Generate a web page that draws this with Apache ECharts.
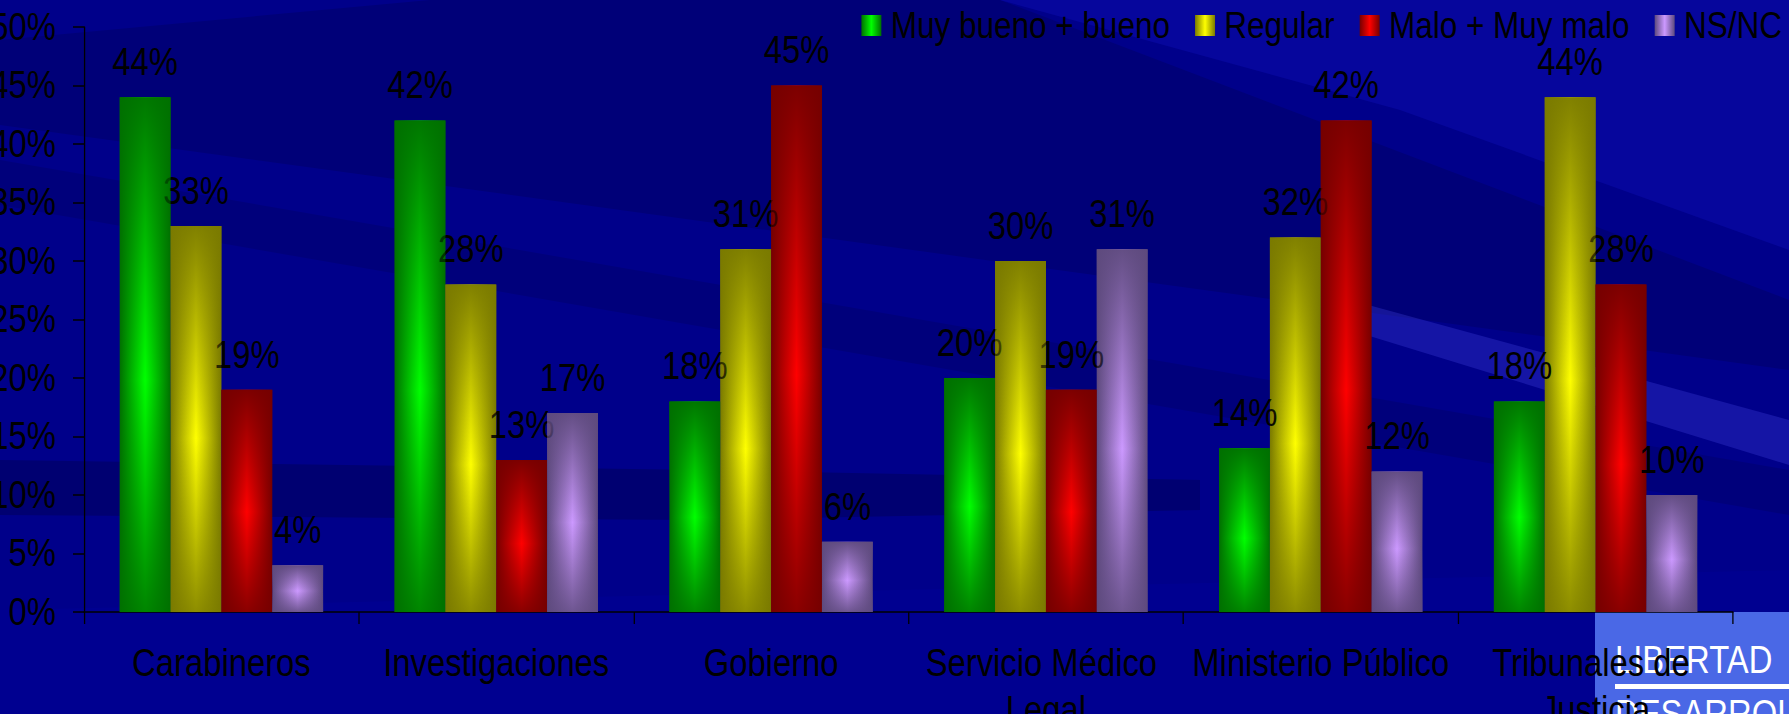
<!DOCTYPE html>
<html>
<head>
<meta charset="utf-8">
<script src="https://cdn.jsdelivr.net/npm/echarts@6/dist/echarts.min.js"></script>
<style>
html,body{margin:0;padding:0;background:#00008a;overflow:hidden;}
#wrap{width:1789px;height:714px;overflow:hidden;position:relative;}
#chart{height:714px;transform-origin:0 0;position:absolute;left:0;top:0;}
</style>
</head>
<body>
<div id="wrap"><div id="chart"></div></div>
<script>
// ---- data ----
var categories = ['Carabineros', 'Investigaciones', 'Gobierno', 'Servicio Médico Legal', 'Ministerio Público', 'Tribunales de Justicia'];
var seriesNames = ['Muy bueno + bueno', 'Regular', 'Malo + Muy malo', 'NS/NC'];
var muyBuenoBueno = [44, 42, 18, 20, 14, 18];
var regular       = [33, 28, 31, 30, 32, 44];
var maloMuyMalo   = [19, 13, 45, 19, 42, 28];
var nsnc          = [4, 17, 6, 31, 12, 10];
var yTicks = [0, 5, 10, 15, 20, 25, 30, 35, 40, 45, 50];

// ---- layout: the original slide text is horizontally condensed; render wider and squeeze ----
var W = 1789, H = 714, SX = 0.863;
function vx(x) { return x / SX; }
var chartEl = document.getElementById('chart');
chartEl.style.width = (W / SX) + 'px';
chartEl.style.transform = 'scaleX(' + SX + ')';

var FONT = "'Liberation Sans', Arial, sans-serif";
var FS = 38;
var edgeColors   = ['#007000', '#7a7a00', '#760000', '#5e4a7e'];
var centerColors = ['#00ff00', '#ffff00', '#ff0000', '#cc99ff'];
var values = [muyBuenoBueno, regular, maloMuyMalo, nsnc];

function hexToRgba(hex, a) {
  var n = parseInt(hex.slice(1), 16);
  return 'rgba(' + ((n >> 16) & 255) + ',' + ((n >> 8) & 255) + ',' + (n & 255) + ',' + a + ')';
}

var series = [];
values.forEach(function (arr, i) {
  series.push({
    name: seriesNames[i],
    type: 'bar',
    xAxisIndex: 0,
    data: arr,
    barGap: '0%',
    barCategoryGap: '26%',
    z: 2,
    itemStyle: {
      color: new echarts.graphic.LinearGradient(0, 0, 1, 0, [
        { offset: 0, color: edgeColors[i] },
        { offset: 0.5, color: centerColors[i] },
        { offset: 1, color: edgeColors[i] }
      ])
    },
    label: {
      show: true,
      position: 'top',
      distance: 16,
      formatter: '{c}%',
      color: '#000',
      fontFamily: FONT,
      fontSize: FS
    }
  });
});
// vertical shading overlay (same values, on a hidden twin axis)
values.forEach(function (arr, i) {
  series.push({
    name: seriesNames[i] + ' ',
    type: 'bar',
    xAxisIndex: 1,
    data: arr,
    barGap: '0%',
    barCategoryGap: '26%',
    silent: true,
    z: 3,
    label: { show: false },
    tooltip: { show: false },
    itemStyle: {
      color: new echarts.graphic.LinearGradient(0, 0, 0, 1, [
        { offset: 0, color: hexToRgba(edgeColors[i], 0.95) },
        { offset: 0.55, color: hexToRgba(edgeColors[i], 0) },
        { offset: 1, color: hexToRgba(edgeColors[i], 0.85) }
      ])
    }
  });
});

// decorative background sweeps (real pixel coords)
var bg = [
  { pts: [[0, 40], [430, 0], [1000, 0], [1789, 300], [1789, 370], [0, 125]], fill: 'rgba(0,0,40,0.18)' },
  { pts: [[0, 160], [1789, 470], [1789, 515], [0, 205]], fill: 'rgba(0,0,40,0.15)' },
  { pts: [[0, 460], [700, 470], [1200, 480], [1200, 510], [700, 520], [0, 515]], fill: 'rgba(0,0,40,0.25)' },
  { pts: [[1000, 0], [1789, 0], [1789, 250], [1400, 110]], fill: 'rgba(20,20,200,0.3)' },
  { pts: [[1350, 300], [1789, 420], [1789, 465], [1350, 330]], fill: 'rgba(70,70,230,0.3)' },
  { pts: [[0, 610], [1789, 570], [1789, 714], [0, 714]], fill: 'rgba(0,0,170,0.2)' }
];
var graphics = bg.map(function (b) {
  return {
    type: 'polygon', z: -100, silent: true,
    shape: { points: b.pts.map(function (p) { return [vx(p[0]), p[1]]; }) },
    style: { fill: b.fill }
  };
});
// logo box bottom right
graphics.push({ type: 'rect', z: -50, silent: true, shape: { x: vx(1595), y: 612, width: vx(200), height: 102 }, style: { fill: '#4a68e6' } });
graphics.push({ type: 'text', z: -49, silent: true, x: vx(1615), y: 641, style: { text: 'LIBERTAD', fill: '#ffffff', font: "38px 'Liberation Sans', Arial, sans-serif" } });
graphics.push({ type: 'rect', z: -49, silent: true, shape: { x: vx(1615), y: 684, width: vx(180), height: 5 }, style: { fill: '#ffffff' } });
graphics.push({ type: 'text', z: -49, silent: true, x: vx(1615), y: 695, style: { text: 'DESARROLLO', fill: '#ffffff', font: "38px 'Liberation Sans', Arial, sans-serif" } });

var chart = echarts.init(chartEl, null, { renderer: 'svg' });
chart.setOption({
  backgroundColor: '#00008a',
  animation: false,
  textStyle: { fontFamily: FONT },
  graphic: graphics,
  legend: {
    data: seriesNames,
    right: vx(7),
    top: 7,
    padding: 0,
    itemWidth: vx(20),
    itemHeight: 21,
    itemGap: vx(25),
    icon: 'rect',
    textStyle: { color: '#000', fontFamily: FONT, fontSize: 36.5, padding: [0, 0, 0, vx(5)] }
  },
  grid: { left: vx(84), right: vx(56), top: 27, bottom: 102, containLabel: false, outerBoundsMode: 'none' },
  xAxis: [{
    type: 'category',
    data: categories,
    axisLine: { lineStyle: { color: '#000', width: 1.5 } },
    axisTick: { show: true, length: 12, lineStyle: { color: '#000', width: 1.5 } },
    axisLabel: {
      color: '#000', fontFamily: FONT, fontSize: FS, lineHeight: 47, margin: 28,
      interval: 0, width: 335, overflow: 'break'
    }
  }, {
    type: 'category',
    data: categories,
    show: false
  }],
  yAxis: {
    type: 'value',
    min: yTicks[0],
    max: yTicks[yTicks.length - 1],
    interval: yTicks[1] - yTicks[0],
    splitLine: { show: false },
    axisLine: { show: true, lineStyle: { color: '#000', width: 1.5 } },
    axisTick: { show: true, length: vx(11), lineStyle: { color: '#000', width: 1.5 } },
    axisLabel: { color: '#000', fontFamily: FONT, fontSize: FS, margin: vx(28), formatter: '{value}%' }
  },
  series: series
});
</script>
</body>
</html>
